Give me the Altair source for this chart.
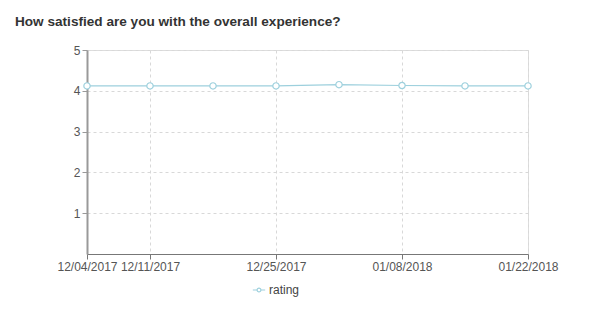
import altair as alt
import pandas as pd

dates = ["12/04/2017", "12/11/2017", "12/18/2017", "12/25/2017",
         "01/01/2018", "01/08/2018", "01/15/2018", "01/22/2018"]
ratings = [4.12, 4.12, 4.12, 4.12, 4.15, 4.13, 4.12, 4.12]
series = ["rating"] * len(dates)
tick_dates = ["12/04/2017", "12/11/2017", "12/25/2017", "01/08/2018", "01/22/2018"]
y_ticks = [1, 2, 3, 4, 5]

df = pd.DataFrame({"date": dates, "rating": ratings, "series": series})

COLOR = "#9dd0dd"
FONT = "Liberation Sans"

sym = ("M-1.3,0L-0.4,0M0.4,0L1.3,0"
       "M0.4,0A0.4,0.4 0 1 1 -0.4,0A0.4,0.4 0 1 1 0.4,0")

x = alt.X("date:O", sort=dates, title=None,
          scale=alt.Scale(type="point", padding=0),
          axis=alt.Axis(values=tick_dates, labelAngle=0, grid=True,
                        gridDash=[3, 3], gridColor="#d8d8d8",
                        domainColor="#777777", tickColor="#777777",
                        tickSize=5, labelColor="#555555", labelFontSize=12,
                        labelFont=FONT, labelPadding=2, labelOverlap=False))
y = alt.Y("rating:Q", title=None,
          scale=alt.Scale(domain=[0, 5], nice=False),
          axis=alt.Axis(values=y_ticks, grid=True, gridDash=[3, 3],
                        gridColor="#d8d8d8", domainColor="#999999",
                        domainWidth=2, tickColor="#999999", tickSize=5,
                        labelColor="#555555", labelFontSize=12,
                        labelFont=FONT, labelPadding=2))
color = alt.Color("series:N", title=None,
                  scale=alt.Scale(range=[COLOR]),
                  legend=alt.Legend(orient="none", legendX=166, legendY=234,
                                    symbolType=sym, symbolStrokeColor=COLOR,
                                    symbolFillColor="white", symbolSize=90,
                                    symbolStrokeWidth=1.2,
                                    labelFont=FONT, labelFontSize=12,
                                    labelColor="#444444"))

line = alt.Chart(df).mark_line(strokeWidth=1.2).encode(x=x, y=y, color=color)
pts = alt.Chart(df).mark_point(shape="circle", filled=True, fill="white",
                               size=40, strokeWidth=1.2, opacity=1).encode(
    x=x, y=y, stroke=alt.Stroke("series:N", scale=alt.Scale(range=[COLOR]), legend=None))

chart = alt.layer(line, pts).properties(
    width=441, height=204,
    autosize=alt.AutoSizeParams(type="none"),
    padding={"left": 87, "top": 50, "right": 86, "bottom": 57},
    title=alt.TitleParams("How satisfied are you with the overall experience?",
                          anchor="start", frame="group", dx=-72, offset=15,
                          font=FONT, fontSize=13.6, fontWeight="bold",
                          color="#333333"),
).configure_view(stroke=None).configure(background="white")

chart.save("out.html", embed_options={"renderer": "svg", "actions": False})
